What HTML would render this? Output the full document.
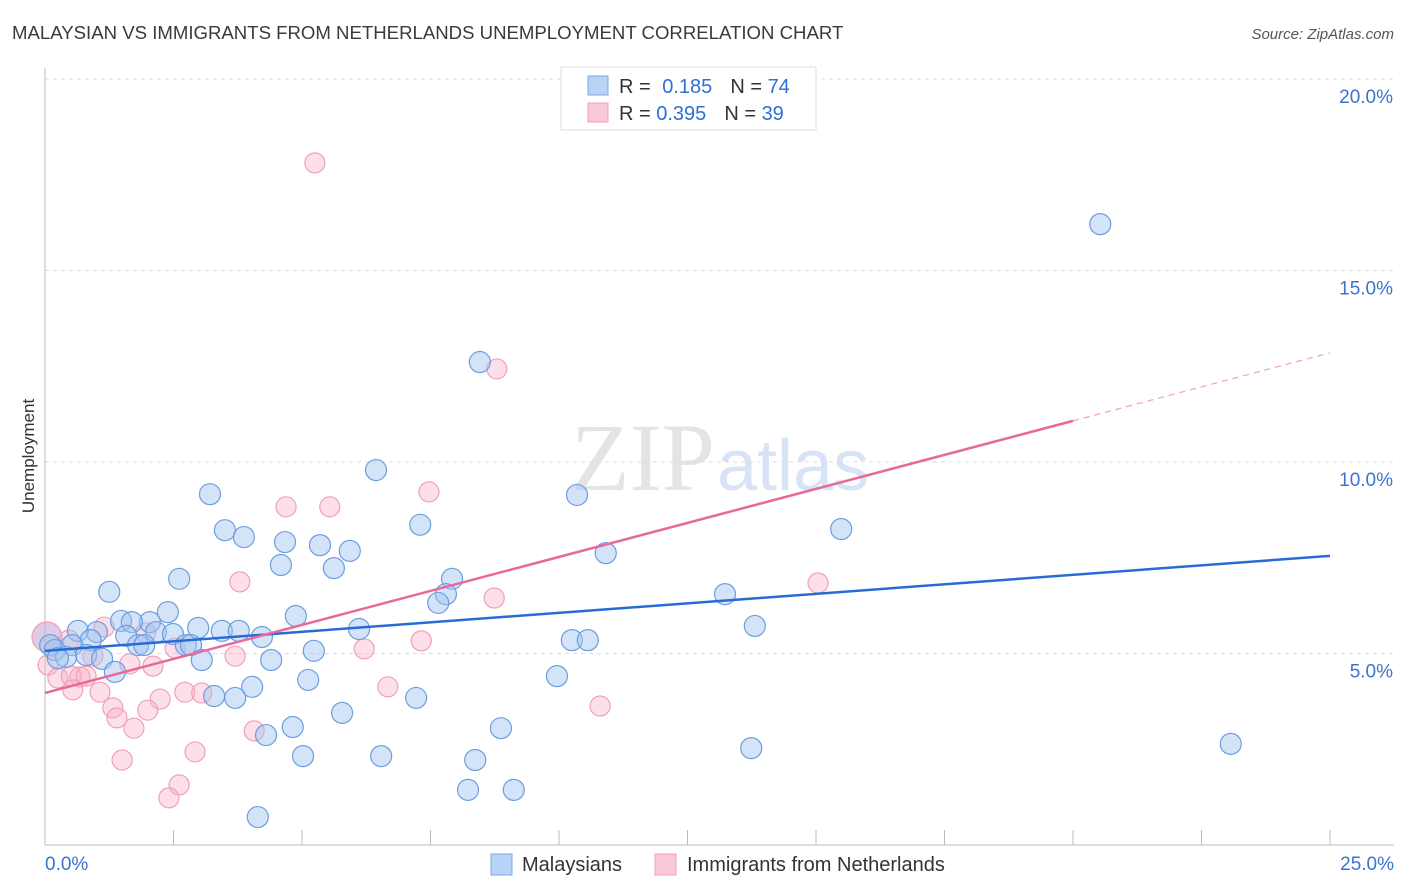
<!DOCTYPE html>
<html><head><meta charset="utf-8"><style>
body{margin:0;background:#fff;font-family:"Liberation Sans",sans-serif;}
svg{display:block}
</style></head><body>
<svg id="chart" width="1406" height="892" xmlns="http://www.w3.org/2000/svg">
<text x="12" y="39" font-size="18.6" fill="#3a3a3a">MALAYSIAN VS IMMIGRANTS FROM NETHERLANDS UNEMPLOYMENT CORRELATION CHART</text>
<text x="1394" y="39" font-size="15" fill="#555" font-style="italic" text-anchor="end">Source: ZipAtlas.com</text>
<text x="715" y="490" font-size="96" fill="#e4e4e4" text-anchor="end" font-family="Liberation Serif,serif">ZIP</text>
<text x="717" y="490" font-size="72" fill="#d6e4f5">atlas</text>
<g id="grid"></g>
<g id="axes"></g>
<g id="pink"></g>
<g id="blue"></g>
<g id="lines"></g>
<text x="34" y="456" font-size="17" fill="#333" text-anchor="middle" transform="rotate(-90 34 456)">Unemployment</text>
<g>
<rect x="561" y="67" width="255" height="63" fill="#fff" stroke="#ddd"/>
<rect x="588" y="76" width="20" height="19" fill="#b8d3f5" stroke="#7aa8e4"/>
<rect x="588" y="103" width="20" height="19" fill="#fbc8d7" stroke="#f0a0b8"/>
<text x="619" y="93" font-size="20" fill="#333">R = <tspan fill="#2f6fd4" dx="6">0.185</tspan><tspan fill="#333" dx="18">N = </tspan><tspan fill="#2f6fd4">74</tspan></text>
<text x="619" y="120" font-size="20" fill="#333">R = <tspan fill="#2f6fd4">0.395</tspan><tspan fill="#333" dx="18">N = </tspan><tspan fill="#2f6fd4">39</tspan></text>
</g>
<g>
<rect x="491" y="854" width="21" height="21" fill="#b8d3f5" stroke="#7aa8e4"/>
<text x="522" y="871" font-size="20" fill="#333">Malaysians</text>
<rect x="655" y="854" width="21" height="21" fill="#fbc8d7" stroke="#f0a0b8"/>
<text x="687" y="871" font-size="20" fill="#333">Immigrants from Netherlands</text>
</g>
</svg>
<script>
const yTicks=[5,10,15,20];
const yTickLabels=["5.0%","10.0%","15.0%","20.0%"];
const xTickLabels=["0.0%","25.0%"];
const blueX=[20.53,8.46,6.44,3.21,10.35,3.50,3.87,7.30,4.67,5.35,5.93,10.91,15.49,4.59,5.62,2.61,7.92,1.25,7.80,7.65,13.23,2.39,4.88,1.48,2.04,1.69,0.64,1.01,2.16,2.98,3.44,3.77,6.11,13.81,1.58,2.49,4.22,10.25,10.56,0.89,1.81,1.93,2.74,2.84,0.53,0.10,0.19,5.23,0.80,0.41,1.11,3.05,4.40,0.25,1.36,9.96,5.12,4.03,3.29,3.70,7.22,5.78,4.82,8.87,4.30,13.74,23.07,5.02,6.54,8.37,8.23,9.12,4.14];
const blueY=[16.21,12.61,9.79,9.16,9.14,8.22,8.04,8.36,7.91,7.83,7.68,7.62,8.25,7.31,7.23,6.95,6.95,6.61,6.55,6.32,6.55,6.08,5.98,5.85,5.82,5.82,5.59,5.56,5.56,5.67,5.59,5.59,5.64,5.72,5.46,5.51,5.43,5.35,5.35,5.35,5.22,5.22,5.22,5.22,5.22,5.22,5.09,5.07,4.96,4.91,4.86,4.83,4.83,4.88,4.52,4.41,4.31,4.13,3.89,3.84,3.84,3.45,3.08,3.05,2.87,2.53,2.64,2.32,2.32,2.22,1.44,1.44,0.73];
const pinkX=[5.25,8.79,7.47,4.69,5.54,3.79,15.04,8.74,1.15,1.96,0.47,0.04,7.32,6.21,2.53,3.70,0.93,1.65,2.10,0.06,0.25,0.51,0.68,0.80,6.67,0.54,1.07,2.24,2.72,3.05,1.32,2.00,1.40,1.73,10.80,4.07,2.92,1.50,2.61,2.41];
const pinkY=[17.81,12.43,9.22,8.83,8.83,6.87,6.84,6.45,5.69,5.54,5.35,5.43,5.33,5.12,5.14,4.93,4.93,4.73,4.67,4.70,4.36,4.41,4.39,4.41,4.13,4.05,3.99,3.81,3.99,3.97,3.58,3.52,3.32,3.05,3.63,2.98,2.43,2.22,1.57,1.23];
const blueTrend=[5.07,7.55];
const pinkTrend=[3.97,12.85];
const pinkSolidEnd=20;
const NS="http://www.w3.org/2000/svg";
const sx=v=>45+v*51.4, sy=v=>845-v*38.3;
function mk(tag,attrs,parent){const e=document.createElementNS(NS,tag);for(const k in attrs)e.setAttribute(k,attrs[k]);document.getElementById(parent).appendChild(e);return e;}
yTicks.forEach((t,i)=>{
 const l=mk('line',{x1:45,x2:1394,y1:sy(t),y2:sy(t),stroke:'#ddd','stroke-dasharray':'4,4'},'grid');
 
 
 const tx=mk('text',{x:1393,y:sy(t)+24,'font-size':19,fill:'#3b73cf','text-anchor':'end'},'grid');
 tx.textContent=yTickLabels[i];
 
 
});
let a=mk('line',{x1:45,x2:45,y1:68,y2:845,stroke:'#bbb'},'axes');


a=mk('line',{x1:45,x2:1394,y1:845,y2:845,stroke:'#bbb'},'axes');


for(let i=1;i<=10;i++){
 const t=mk('line',{x1:sx(i*2.5),x2:sx(i*2.5),y1:830,y2:845,stroke:'#bbb'},'axes');
 
 
}
[[0,'start',45],[25,'end',1394]].forEach((d,i)=>{
 const t=mk('text',{x:d[2],y:870,'font-size':19,fill:'#3b73cf','text-anchor':d[1]},'axes');
 t.textContent=xTickLabels[i];
 
 
});
pinkX.forEach((x,i)=>{
 const c=mk('circle',{cx:sx(x),cy:sy(pinkY[i]),r:i==11?15:10,fill:i==11?'rgba(200,170,210,0.6)':'rgba(248,175,198,0.4)',stroke:'#f0a0b8','stroke-width':1.2},'pink');
 
 
});
blueX.forEach((x,i)=>{
 const c=mk('circle',{cx:sx(x),cy:sy(blueY[i]),r:10.5,fill:'rgba(160,196,240,0.45)',stroke:'#6c9de0','stroke-width':1.2},'blue');
 
 
});
let ln=mk('line',{x1:sx(0),y1:sy(blueTrend[0]),x2:sx(25),y2:sy(blueTrend[1]),stroke:'#2a6ad6','stroke-width':2.5},'lines');


const pe=pinkTrend[0]+(pinkTrend[1]-pinkTrend[0])*pinkSolidEnd/25;
ln=mk('line',{x1:sx(0),y1:sy(pinkTrend[0]),x2:sx(pinkSolidEnd),y2:sy(pe),stroke:'#e8689a','stroke-width':2.5},'lines');


ln=mk('line',{x1:sx(pinkSolidEnd),y1:sy(pe),x2:sx(25),y2:sy(pinkTrend[1]),stroke:'#f0a0b8','stroke-width':1.2,'stroke-dasharray':'6,5'},'lines');


</script>
</body></html>
